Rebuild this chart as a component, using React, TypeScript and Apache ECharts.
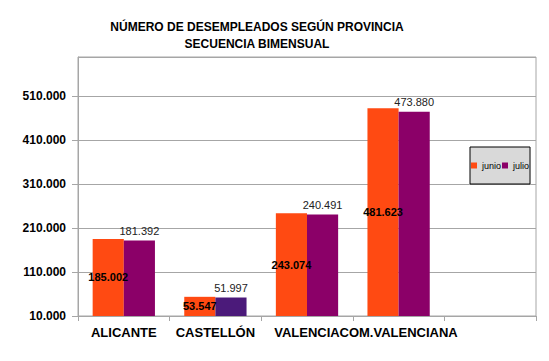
import React, { useEffect, useRef } from "react";
import * as echarts from "echarts";

const titleLines = ["NÚMERO DE DESEMPLEADOS SEGÚN PROVINCIA", "SECUENCIA BIMENSUAL"];
const categories = ["ALICANTE", "CASTELLÓN", "VALENCIA", "COM.VALENCIANA", ""];
const seriesNames = ["junio", "julio"];
const junio = [185002, 53547, 243074, 481623, null];
const julio = [181392, 51997, 240491, 473880, null];
const yMin = 10000;
const yMax = 598000;
const yStep = 100000;

const fmt = (v: number) => {
  const s = Math.round(v).toString();
  return s.replace(/\B(?=(\d{3})+(?!\d))/g, ".");
};

export default function App() {
  const ref = useRef<HTMLDivElement>(null);
  useEffect(() => {
    document.body.style.margin = "0";
    if (!ref.current) return;
    const chart = echarts.init(ref.current, null, { renderer: "svg" });
    const gray = "#A6A6A6";
    chart.setOption({
      animation: false,
      backgroundColor: "#ffffff",
      textStyle: { fontFamily: "Liberation Sans, Arial, sans-serif" },
      title: {
        text: titleLines.join("\n"),
        left: 252,
        top: 14,
        textAlign: "center",
        textStyle: {
          fontSize: 12,
          fontWeight: "bold",
          color: "#000",
          lineHeight: 16.5,
          fontFamily: "Liberation Sans, Arial, sans-serif",
        },
      },
      legend: {
        data: seriesNames,
        orient: "horizontal",
        left: 470,
        top: 147,
        width: 80,
        padding: [14, 1, 14, 1],
        itemGap: 1,
        itemWidth: 6,
        itemHeight: 6,
        icon: "rect",
        backgroundColor: "#D9D9D9",
        borderColor: "#000",
        borderWidth: 1,
        borderRadius: 0,
        textStyle: { fontSize: 9, color: "#000" },
      },
      grid: {
        left: 78,
        right: 13,
        top: 57,
        bottom: 45,
        show: true,
        borderColor: gray,
        borderWidth: 1,
        containLabel: false,
      },
      xAxis: {
        type: "category",
        data: categories,
        axisLine: { show: true, lineStyle: { color: gray } },
        axisTick: { show: true, length: 5, lineStyle: { color: gray } },
        axisLabel: {
          interval: 0,
          margin: 10,
          fontSize: 13,
          fontWeight: "bold",
          color: "#000",
        },
        splitLine: { show: false },
      },
      yAxis: {
        type: "value",
        min: yMin,
        max: yMax,
        interval: yStep,
        axisLine: { show: true, lineStyle: { color: gray } },
        axisTick: { show: true, length: 6, lineStyle: { color: gray } },
        axisLabel: {
          margin: 12,
          fontSize: 12,
          fontWeight: "bold",
          color: "#000",
          showMaxLabel: false,
          formatter: (v: number) => fmt(v),
        },
        splitLine: { show: true, lineStyle: { color: gray, width: 1 } },
      },
      series: [
        {
          name: seriesNames[0],
          type: "bar",
          data: junio,
          barGap: "0%",
          barCategoryGap: "32%",
          itemStyle: { color: "#FF4A12" },
          label: {
            show: true,
            position: "inside",
            fontSize: 11,
            fontWeight: "bold",
            color: "#000",
            formatter: (p: any) => (p.value == null ? "" : fmt(p.value)),
          },
        },
        {
          name: seriesNames[1],
          type: "bar",
          data: julio.map((v, i) =>
            i === 1 ? { value: v, itemStyle: { color: "#4B1A7A" } } : v
          ),
          barGap: "0%",
          barCategoryGap: "32%",
          itemStyle: { color: "#8B0068" },
          label: {
            show: true,
            position: "top",
            distance: 4,
            fontSize: 11,
            color: "#222",
            formatter: (p: any) => (p.value == null ? "" : fmt(p.value)),
          },
        },
      ],
    });
    return () => chart.dispose();
  }, []);
  return <div ref={ref} style={{ width: 549, height: 361 }} />;
}
